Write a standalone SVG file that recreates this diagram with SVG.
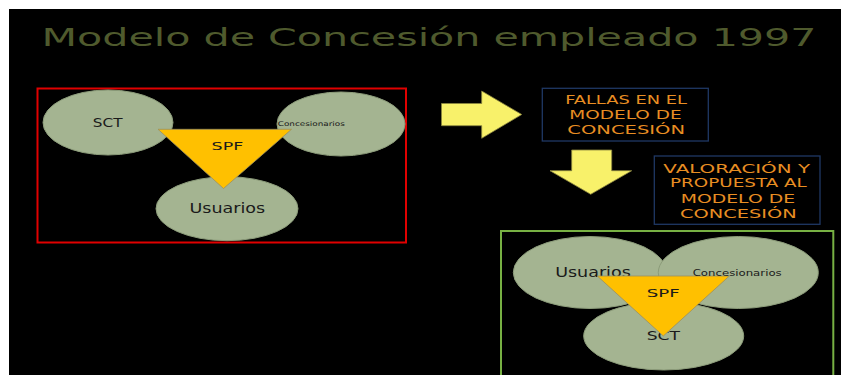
<svg xmlns="http://www.w3.org/2000/svg" width="841" height="375" viewBox="0 0 841 375">
<style>
.bg{fill:#000}
.ell{fill:#A4B491;stroke:#8C9C7A;stroke-width:1}
.tri{fill:#FFC000;stroke:#9A8F60;stroke-width:0.8}
.lbl{font-family:"DejaVu Sans","Liberation Sans",sans-serif;fill:#1A1A1A;text-anchor:middle}
.box{fill:none;stroke:#1F3864;stroke-width:1.3}
.btxt{font-family:"DejaVu Sans","Liberation Sans",sans-serif;fill:#E88E23;font-size:11.5px;text-anchor:middle}
.arr{fill:#F8F16A;stroke:#8A8540;stroke-width:0.8}
</style>
<rect x="0" y="0" width="841" height="375" fill="#fff"/>
<rect class="bg" x="9" y="9" width="832" height="366"/>
<text x="41.5" y="46" font-family="DejaVu Sans, Liberation Sans, sans-serif" font-size="24" fill="#4F5A2D" textLength="775" lengthAdjust="spacingAndGlyphs">Modelo de Concesión empleado 1997</text>

<g id="model1997">
<rect x="37.5" y="88.5" width="368.5" height="154" fill="none" stroke="#E00000" stroke-width="2"/>
<g id="sct1">
<ellipse class="ell" cx="108" cy="122.5" rx="65" ry="32.5"/>
<text class="lbl" x="107.7" y="126.8" font-size="11.5" textLength="29.7" lengthAdjust="spacingAndGlyphs">SCT</text>
</g>
<g id="conc1">
<ellipse class="ell" cx="341" cy="124" rx="64" ry="32"/>
<text class="lbl" x="311.3" y="126" font-size="6.5" textLength="67" lengthAdjust="spacingAndGlyphs">Concesionarios</text>
</g>
<g id="usu1">
<ellipse class="ell" cx="227" cy="208.7" rx="71" ry="32"/>
<text class="lbl" x="227.3" y="213" font-size="13.5" textLength="75.7" lengthAdjust="spacingAndGlyphs">Usuarios</text>
</g>
<g id="spf1">
<polygon class="tri" points="158,129.3 291.5,129.3 223.5,188.5"/>
<text class="lbl" x="227.4" y="150" font-size="10.5" textLength="31.7" lengthAdjust="spacingAndGlyphs">SPF</text>
</g>
</g>

<g id="fallas">
<rect class="box" x="542.3" y="88.3" width="166" height="52.7"/>
<text class="btxt" x="626" y="103.5" textLength="121.7" lengthAdjust="spacingAndGlyphs">FALLAS EN EL</text>
<text class="btxt" x="625.5" y="118.5" textLength="112.3" lengthAdjust="spacingAndGlyphs">MODELO DE</text>
<text class="btxt" x="626.2" y="134.2" textLength="117.7" lengthAdjust="spacingAndGlyphs">CONCESIÓN</text>
</g>

<g id="valoracion">
<rect class="box" x="654.3" y="156" width="165.7" height="68.3"/>
<text class="btxt" x="736.7" y="172.5" textLength="146.7" lengthAdjust="spacingAndGlyphs">VALORACIÓN Y</text>
<text class="btxt" x="738.4" y="186.5" textLength="136.7" lengthAdjust="spacingAndGlyphs">PROPUESTA AL</text>
<text class="btxt" x="737.9" y="202.5" textLength="114.3" lengthAdjust="spacingAndGlyphs">MODELO DE</text>
<text class="btxt" x="738.4" y="217.5" textLength="116.7" lengthAdjust="spacingAndGlyphs">CONCESIÓN</text>
</g>

<g id="modelProposed">
<rect x="501" y="231" width="332.3" height="150" fill="none" stroke="#77B043" stroke-width="2"/>
<g id="usu2">
<ellipse class="ell" cx="590" cy="272.5" rx="76.7" ry="36"/>
<text class="lbl" x="593" y="276.5" font-size="13.5" textLength="75.7" lengthAdjust="spacingAndGlyphs">Usuarios</text>
</g>
<g id="conc2">
<ellipse class="ell" cx="738.3" cy="272.5" rx="80" ry="36"/>
</g>
<g id="sct2">
<ellipse class="ell" cx="663.7" cy="336" rx="80" ry="34"/>
<text class="lbl" x="663.3" y="339.5" font-size="12" textLength="33.3" lengthAdjust="spacingAndGlyphs">SCT</text>
</g>
<g id="spf2">
<polygon class="tri" points="597.3,276 729.3,276 663.3,336"/>
<text class="lbl" x="663.3" y="297" font-size="11" textLength="33" lengthAdjust="spacingAndGlyphs">SPF</text>
</g>
<text class="lbl" x="737.2" y="275.5" font-size="8.5" textLength="89" lengthAdjust="spacingAndGlyphs">Concesionarios</text>
</g>

<g id="connectors">
<polygon class="arr" points="441.5,103.5 481.7,103.5 481.7,91 521.7,114.5 481.7,138.3 481.7,125.7 441.5,125.7"/>
<polygon class="arr" points="571.7,150 611.7,150 611.7,170.7 631.7,170.7 590.7,194.3 550,170.7 571.7,170.7"/>
</g>
</svg>
